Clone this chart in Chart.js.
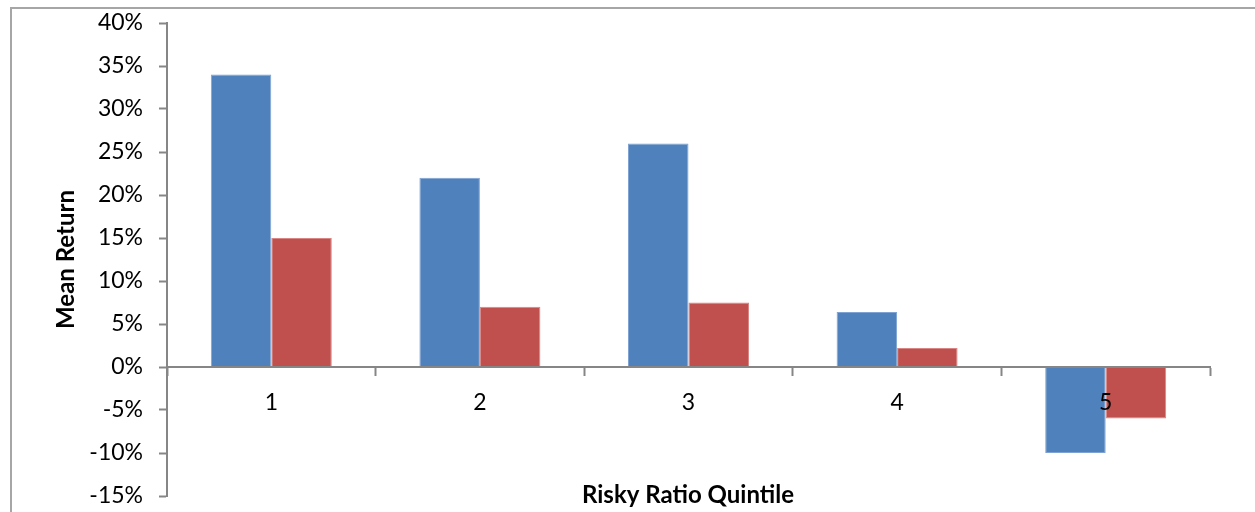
<!DOCTYPE html>
<html>
<head>
<meta charset="utf-8">
<script src="https://cdn.jsdelivr.net/npm/chart.js@4.4.1/dist/chart.umd.min.js"></script>
<style>
  body { margin: 0; background: #fff; }
  #wrap { width: 1255px; height: 512px; position: relative; }
</style>
</head>
<body>
<div id="wrap"><canvas id="riskChart"></canvas></div>
<script>
// chart values
const quintiles = ['1', '2', '3', '4', '5'];
const seriesA = [34, 22, 26, 6.4, -10];
const seriesB = [15, 7, 7.5, 2.2, -6];
const yTicks = [-15, -10, -5, 0, 5, 10, 15, 20, 25, 30, 35, 40];

const axisGray = '#868686';
const fontFam = 'Lato, "Open Sans", sans-serif';

// outer frame + x axis title
const framePlugin = {
  id: 'frame',
  beforeDraw(chart) {
    const ctx = chart.ctx;
    ctx.save();
    ctx.strokeStyle = '#a6a6a6';
    ctx.lineWidth = 2;
    ctx.strokeRect(11, 8, 1400, 700);
    ctx.restore();
  },
  afterDraw(chart) {
    const ctx = chart.ctx;
    const area = chart.chartArea;
    ctx.save();
    ctx.font = 'bold 24px ' + fontFam;
    ctx.fillStyle = '#000';
    ctx.textAlign = 'center';
    ctx.textBaseline = 'middle';
    ctx.fillText('Risky Ratio Quintile', 688, area.bottom - 1);
    ctx.restore();
  }
};

const ctx = document.getElementById('riskChart');

const riskChart = new Chart(ctx, {
  type: 'bar',
  data: {
    labels: quintiles,
    datasets: [{
      label: 'Series 1',
      data: seriesA,
      backgroundColor: '#4f81bd',
      borderColor: '#7ea3d2',
      borderWidth: 1,
      categoryPercentage: 0.58,
      barPercentage: 1.0,
    }, {
      label: 'Series 2',
      data: seriesB,
      backgroundColor: '#c0504d',
      borderColor: '#d98583',
      borderWidth: 1,
      categoryPercentage: 0.58,
      barPercentage: 1.0,
    }]
  },
  options: {
    responsive: true,
    maintainAspectRatio: false,
    animation: false,
    layout: { padding: { top: 23, right: 45, bottom: 16, left: 0 } },
    plugins: {
      legend: { display: false },
      tooltip: { enabled: false },
    },
    scales: {
      x: {
        position: { y: 0 },
        offset: true,
        grid: {
          offset: true,
          drawOnChartArea: false,
          drawTicks: true,
          tickLength: 8,
          tickWidth: 2,
          tickColor: axisGray,
          z: 1,
        },
        border: { color: axisGray, width: 2, z: 1 },
        ticks: {
          color: '#000',
          padding: 14,
          z: 1,
          font: { family: fontFam, size: 23 },
        },
      },
      y: {
        min: -15,
        max: 40,
        afterBuildTicks(scale) {
          scale.ticks = yTicks.map(v => ({ value: v }));
        },
        afterFit(scale) {
          scale.width = 167;
          // let layout padding decide the plot top / bottom
          scale.paddingTop = 0;
          scale.paddingBottom = 0;
        },
        grid: {
          drawOnChartArea: false,
          tickLength: 8,
          tickWidth: 2,
          tickColor: axisGray,
        },
        border: { color: axisGray, width: 2 },
        ticks: {
          color: '#000',
          padding: 16,
          font: { family: fontFam, size: 23 },
          callback: v => v + '%',
        },
        title: {
          display: true,
          text: 'Mean Return',
          color: '#000',
          font: { family: fontFam, size: 24, weight: 'bold' },
          padding: { top: 52, bottom: 0 },
        },
      },
    },
  },
  plugins: [framePlugin],
});
</script>
</body>
</html>
